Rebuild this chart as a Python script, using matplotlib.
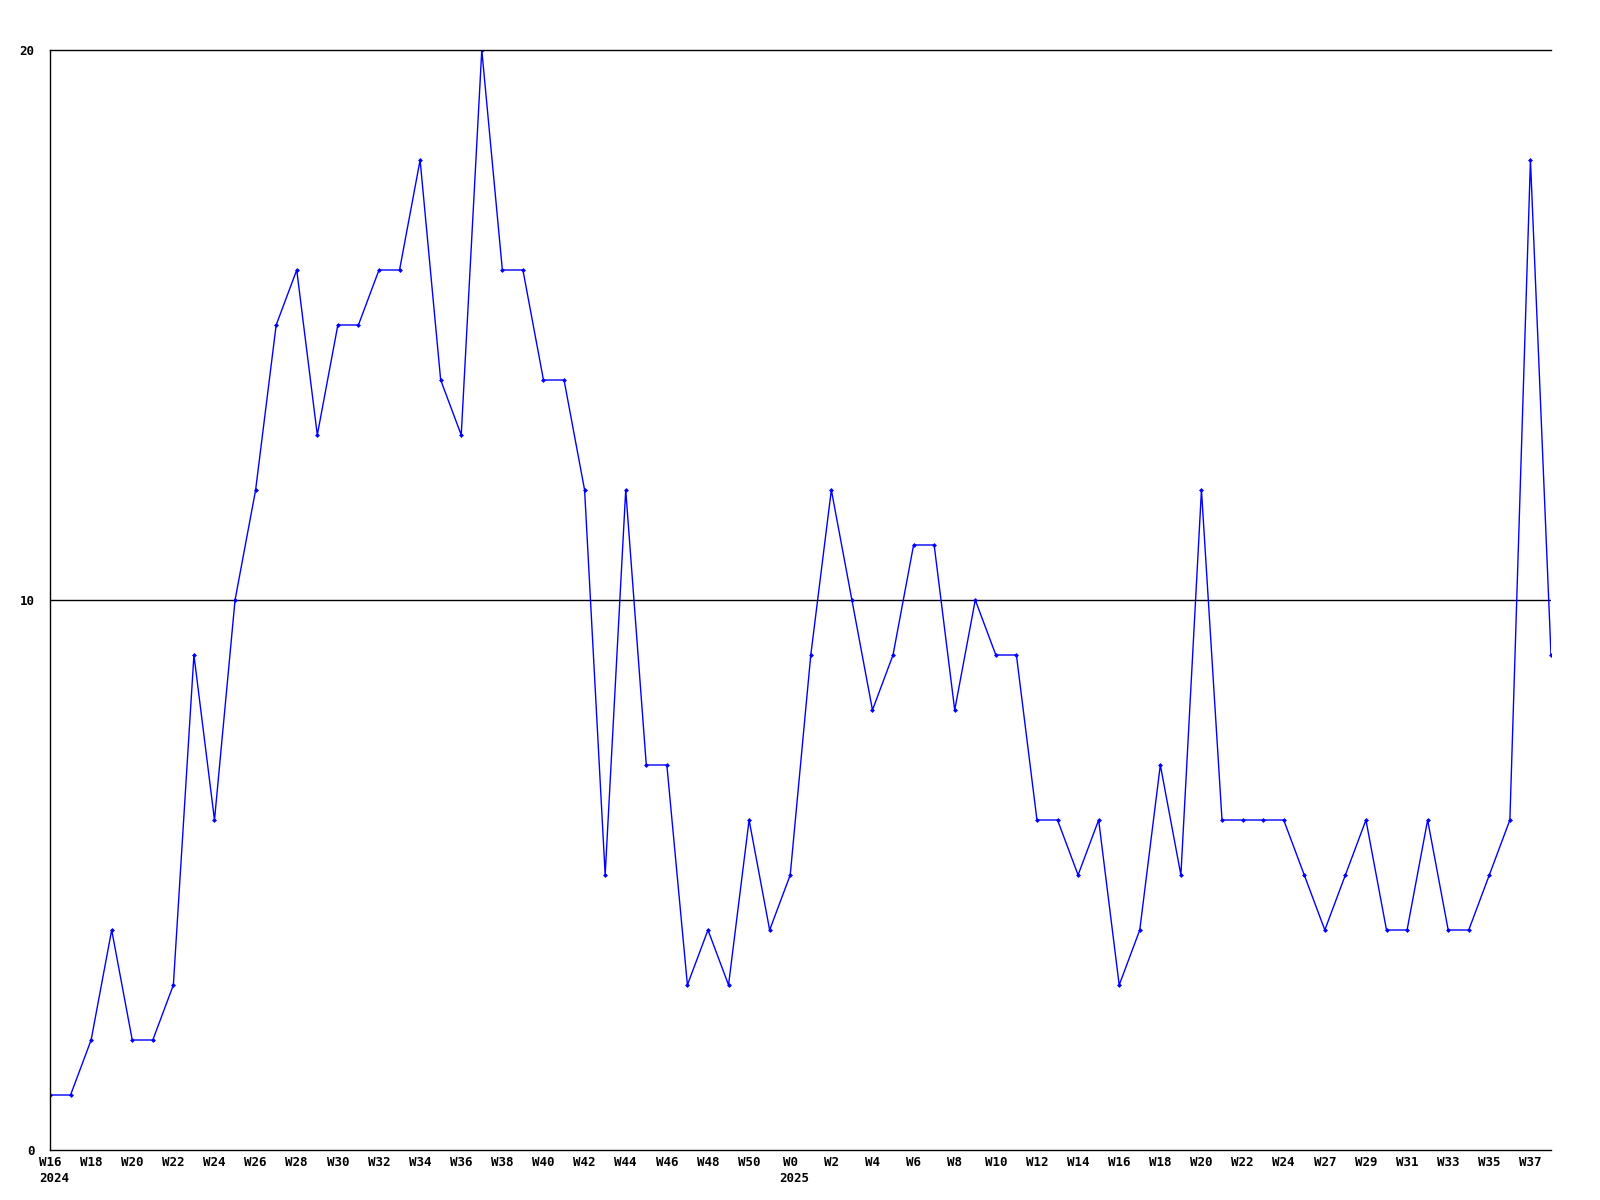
import matplotlib

matplotlib.use("Agg")
import matplotlib.pyplot as plt
import matplotlib.transforms as mtransforms
import numpy as np

# week labels, 2024 W16..W51 then 2025
WEEKS_2024 = [f"W{w}" for w in range(16, 52)]
WEEKS_2025 = [f"W{w}" for w in range(0, 26)] + [f"W{w}" for w in range(27, 39)]
WEEK_LABELS = WEEKS_2024 + WEEKS_2025
YEAR_LABELS = {"2024": 0, "2025": len(WEEKS_2024)}

COUNTS = [
    1, 1, 2, 4, 2, 2, 3, 9, 6, 10, 12, 15, 16, 13, 15, 15, 16, 16, 18, 14,
    13, 20, 16, 16, 14, 14, 12, 5, 12, 7, 7, 3, 4, 3, 6, 4,
    5, 9, 12, 10, 8, 9, 11, 11, 8, 10, 9, 9, 6, 6, 5, 6, 3, 4, 7, 5,
    12, 6, 6, 6, 6, 5, 4, 5, 6, 4, 4, 6, 4, 4, 5, 6, 18, 9,
]

FONT = {"family": "DejaVu Sans Mono", "weight": "bold", "size": 9}

fig = plt.figure(figsize=(16, 12), dpi=100)
ax = fig.add_axes([50 / 1600, 50 / 1200, 1501 / 1600, 1100 / 1200])

x = np.arange(len(COUNTS))
ax.plot(x, COUNTS, color="#0000ff", linewidth=1, marker="D", markersize=2.5,
        markerfacecolor="#0000ff", markeredgewidth=0)
ax.axhline(10, color="black", linewidth=1, zorder=1)

ax.set_xlim(0, len(COUNTS) - 1)
ax.set_ylim(0, 20)
ax.set_yticks([0, 10, 20])
ax.set_yticklabels(["0", "10", "20"], fontdict=FONT)
ax.tick_params(axis="y", length=0, pad=11)
tick_idx = x[::2]
ax.set_xticks(tick_idx)
ax.set_xticklabels([WEEK_LABELS[i] for i in tick_idx], fontdict=FONT)
ax.tick_params(axis="x", length=0, pad=4)

ax.spines["right"].set_visible(False)
for spine in ["left", "bottom", "top"]:
    ax.spines[spine].set_color("black")
    ax.spines[spine].set_linewidth(1)

base = mtransforms.blended_transform_factory(ax.transData, ax.transAxes)
for year, idx in YEAR_LABELS.items():
    trans = mtransforms.offset_copy(base, fig=fig, x=-8.1, y=-15.5, units="points")
    ax.text(idx, 0, year, transform=trans, ha="left", va="top", fontdict=FONT)

fig.savefig("out.png", dpi=100)
